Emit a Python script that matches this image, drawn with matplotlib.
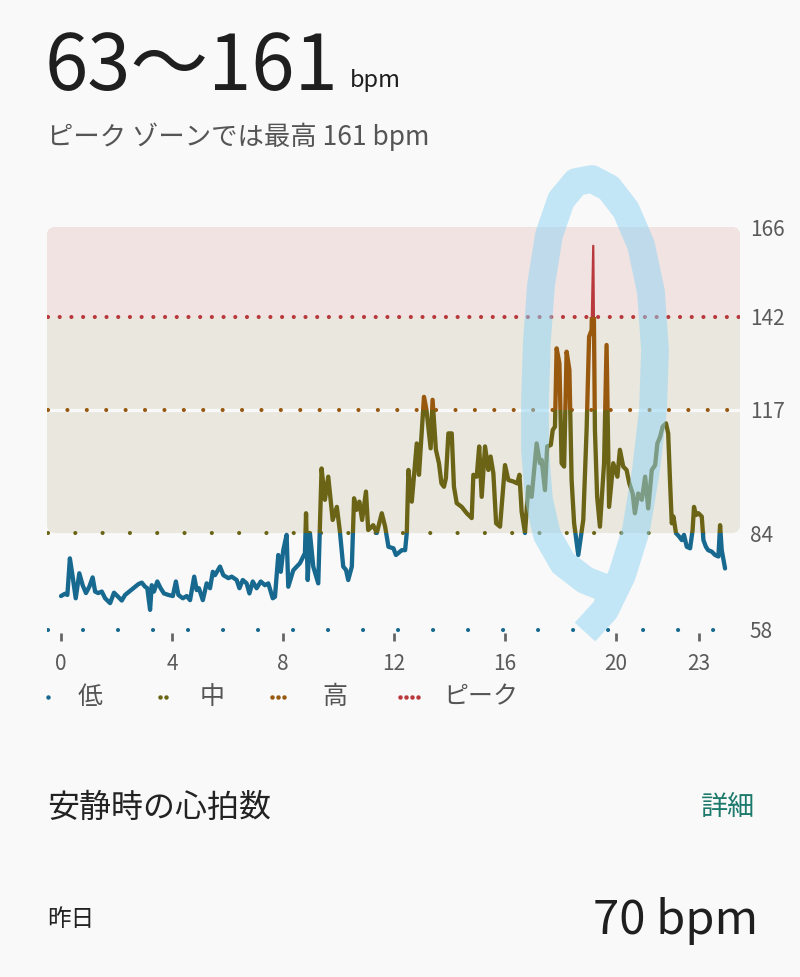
import matplotlib
matplotlib.use("Agg")
import matplotlib.pyplot as plt
from matplotlib.patches import FancyBboxPatch, Rectangle

plt.rcParams['font.family'] = ['Noto Sans CJK JP', 'DejaVu Sans']

# heart rate trace (hour of day, bpm)
hours = [0.00, 0.14, 0.23, 0.32, 0.42, 0.53, 0.66, 0.78, 0.90, 1.02, 1.14, 1.23, 1.34, 1.47,
         1.59, 1.77, 1.91, 2.06, 2.19, 2.31, 2.49, 2.67, 2.79, 2.91, 3.03, 3.11, 3.21, 3.27,
         3.35, 3.47, 3.59, 3.71, 3.87, 4.03, 4.14, 4.23, 4.39, 4.53, 4.65, 4.80, 4.89, 4.97,
         5.11, 5.25, 5.37, 5.47, 5.55, 5.73, 5.85, 6.03, 6.15, 6.33, 6.43, 6.55, 6.69, 6.79,
         6.91, 7.05, 7.20, 7.35, 7.47, 7.63, 7.71, 7.83, 7.92, 8.01, 8.13, 8.19, 8.37, 8.61,
         8.79, 8.83, 8.89, 8.97, 9.09, 9.27, 9.39, 9.51, 9.63, 9.79, 9.94, 10.05, 10.17, 10.27,
         10.35, 10.48, 10.56, 10.65, 10.75, 10.85, 10.99, 11.07, 11.25, 11.38, 11.56, 11.68,
         11.80, 11.98, 12.07, 12.28, 12.40, 12.46, 12.52, 12.64, 12.82, 12.90, 13.08, 13.17,
         13.32, 13.39, 13.51, 13.62, 13.71, 13.80, 13.87, 13.96, 14.08, 14.16, 14.26, 14.44,
         14.62, 14.80, 14.86, 14.98, 15.07, 15.16, 15.28, 15.40, 15.48, 15.58, 15.68, 15.82,
         16.00, 16.12, 16.30, 16.44, 16.52, 16.60, 16.72, 16.84, 16.96, 17.14, 17.26, 17.32,
         17.44, 17.52, 17.65, 17.72, 17.80, 17.86, 17.96, 18.04, 18.13, 18.22, 18.32, 18.40,
         18.49, 18.64, 18.82, 18.94, 19.03, 19.12, 19.18, 19.24, 19.32, 19.42, 19.57, 19.66,
         19.75, 19.90, 20.05, 20.14, 20.26, 20.38, 20.48, 20.60, 20.68, 20.80, 20.93, 21.05,
         21.16, 21.29, 21.41, 21.49, 21.59, 21.68, 21.80, 21.88, 21.95, 22.01, 22.07, 22.16,
         22.28, 22.37, 22.45, 22.55, 22.67, 22.76, 22.81, 22.88, 22.97, 23.09, 23.15, 23.24,
         23.32, 23.45, 23.57, 23.69, 23.75, 23.81, 23.93]
bpm = [67.1, 67.7, 67.4, 77.2, 72.3, 66.5, 73.2, 70.0, 67.9, 69.6, 72.1, 68.3, 67.9, 68.3,
       66.5, 65.2, 68.0, 66.9, 65.9, 67.4, 68.5, 69.6, 70.3, 70.7, 69.6, 69.2, 63.4, 70.0,
       68.3, 71.0, 69.2, 67.8, 67.4, 67.1, 71.0, 67.4, 66.5, 67.1, 66.0, 72.3, 68.7, 69.2,
       66.0, 70.5, 69.2, 73.6, 72.7, 75.0, 72.7, 71.9, 72.3, 71.4, 69.2, 71.4, 70.5, 67.8,
       71.0, 69.2, 71.0, 70.0, 70.5, 66.5, 66.9, 78.1, 73.6, 79.4, 83.5, 69.6, 74.0, 75.9,
       78.6, 89.3, 71.4, 84.0, 75.0, 70.5, 101.3, 92.9, 99.1, 87.5, 91.0, 84.4, 75.0, 74.1,
       71.4, 75.0, 93.3, 90.2, 92.4, 87.5, 95.1, 84.8, 86.1, 84.0, 89.3, 85.7,
       80.3, 79.9, 78.1, 79.4, 79.4, 84.0, 100.9, 92.4, 108.0, 99.6, 120.5, 117.0,
       106.7, 119.7, 106.3, 102.7, 97.3, 96.4, 98.7, 110.7, 110.7, 96.4, 92.0, 91.0,
       89.3, 88.0, 99.6, 99.1, 107.2, 93.7, 107.2, 100.9, 104.5, 100.0, 86.6, 85.7,
       102.2, 98.2, 97.8, 97.3, 99.6, 89.7, 84.0, 96.4, 93.7, 108.0, 102.7, 103.6,
       95.5, 107.2, 107.6, 111.6, 112.5, 133.5, 129.5, 102.7, 101.8, 132.6, 127.7, 98.2,
       86.6, 78.1, 87.5, 111.6, 136.6, 138.4, 161.0, 111.6, 93.7, 85.7, 102.7, 134.4,
       91.0, 102.7, 99.1, 106.3, 101.8, 100.9, 97.3, 94.6, 89.3, 94.6, 92.9, 99.1,
       90.6, 100.9, 102.2, 108.0, 109.8, 112.5, 113.4, 110.7, 97.3, 86.6, 88.4, 84.0,
       83.0, 82.1, 83.5, 80.3, 79.9, 84.8, 91.0, 88.8, 89.3, 88.4, 82.1, 80.3,
       79.4, 79.0, 78.1, 77.7, 86.1, 79.4, 74.5]

zone_edges = [58, 84, 117, 142, 166]
zone_names = ['低', '中', '高', 'ピーク']
zone_colors = ['#17698f', '#6b6416', '#98580e', '#b8383c']
dot_gaps_px = [35, 27.3, 19.4, 11.7]
x_ticks = [0, 4, 8, 12, 16, 20, 23]

resting_label = '安静時の心拍数'
resting_value = 70

W, H = 800, 977
bg = '#f9f9f9'
fig = plt.figure(figsize=(W / 100, H / 100), dpi=100, facecolor=bg)


def fy(py):
    return 1 - py / H


# chart axes, placed to line up with the screenshot
ax = fig.add_axes([47 / W, fy(641), 693 / W, 418 / H])
ax.set_facecolor('none')
x0, x1 = -0.5045, 24.468
ax.set_xlim(x0, x1)
ax.set_ylim(55.05, 167.1)
for s in ax.spines.values():
    s.set_visible(False)

# zone background (rounded), pink peak area on top
band = FancyBboxPatch((x0, zone_edges[1]), x1 - x0, zone_edges[4] - zone_edges[1],
                      boxstyle='round,pad=0,rounding_size=0.3', mutation_aspect=7.44,
                      fc='#e9e7de', ec='none', zorder=0)
ax.add_patch(band)
pink = Rectangle((x0, zone_edges[3]), x1 - x0, zone_edges[4] - zone_edges[3],
                 fc='#f0e3e2', ec='none', zorder=0.5)
ax.add_patch(pink)
pink.set_clip_path(band)
sep = ax.axhline(zone_edges[2], color=bg, lw=2.4, zorder=0.8)
sep.set_clip_path(band)

# dotted zone lines
ends = [0.964, 0.986, 0.986, 1.0]
dot_lw = 3.0
for v, c, g, e in zip(zone_edges[:4], zone_colors, dot_gaps_px, ends):
    gap = g / (dot_lw * 100 / 72)
    ax.axhline(v, xmin=0.0015, xmax=e, color=c, lw=dot_lw,
               linestyle=(0, (0.001, gap)), dash_capstyle='round', zorder=1)

# heart rate line, coloured by zone
lows = [0, 84, 117, 142]
highs = [84, 117, 142, 250]
for lo, hi, c in zip(lows, highs, zone_colors):
    lw = 1.6 if lo == 142 else 3.1
    ln, = ax.plot(hours, bpm, color=c, lw=lw, solid_joinstyle='round',
                  solid_capstyle='round', zorder=3)
    clip = Rectangle((x0 - 1, lo), x1 - x0 + 2, hi - lo, transform=ax.transData)
    ln.set_clip_path(clip)

ax.set_xticks(x_ticks)
ax.set_xticklabels([str(t) for t in x_ticks])
ax.tick_params(axis='x', direction='in', length=5.5, width=2.0, color='#666666',
               pad=9, labelsize=15, labelcolor='#5a5a5a')
ax.yaxis.tick_right()
ax.set_yticks(zone_edges)
ax.tick_params(axis='y', length=0, pad=7, labelsize=15, labelcolor='#5a5a5a')

# overlay in pixel space for legend dots and the hand-drawn highlight
ov = fig.add_axes([0, 0, 1, 1])
ov.set_xlim(0, W)
ov.set_ylim(H, 0)
ov.axis('off')
ov.set_facecolor('none')

legend_x = [48, 160, 272, 400]
label_x = [78, 200, 322, 443]
for i, (name, c) in enumerate(zip(zone_names, zone_colors)):
    xs = [legend_x[i] + 6 * k for k in range(i + 1)]
    ov.plot(xs, [697] * len(xs), 'o', color=c, ms=3.2, mew=0)
    ov.text(label_x[i], 697, name, fontsize=18, color='#555555', va='center')

hl_x = [605, 585, 563, 547, 539, 535, 535, 537, 541, 549, 561, 576, 592, 609, 626, 641,
        651, 655, 653, 646, 636, 622, 605, 585]
hl_y = [588, 580, 563, 535, 500, 450, 400, 340, 285, 235, 200, 182, 179, 188, 210, 245,
        292, 350, 410, 470, 530, 575, 610, 632]
ov.plot(hl_x, hl_y, color='#8fd4f4', alpha=0.5, lw=20, solid_joinstyle='round',
        solid_capstyle='butt', zorder=10)

lo_v, hi_v = int(round(min(bpm))), int(round(max(bpm)))
fig.text(45 / W, fy(90), f'{lo_v}〜{hi_v}', fontsize=56, color='#1f1f1f', va='baseline')
fig.text(350 / W, fy(87), 'bpm', fontsize=17, color='#1f1f1f', va='baseline')
fig.text(47 / W, fy(145), f'ピーク ゾーンでは最高 {hi_v} bpm', fontsize=19,
         color='#555555', va='baseline')
fig.text(47 / W, fy(817), resting_label, fontsize=23, color='#222222', va='baseline')
fig.text(755 / W, fy(815), '詳細', fontsize=19.5, color='#1b7a6b', ha='right', va='baseline')
fig.text(47 / W, fy(926), '昨日', fontsize=17, color='#222222', va='baseline')
fig.text(758 / W, fy(934), f'{resting_value} bpm', fontsize=34, color='#1f1f1f',
         ha='right', va='baseline')

fig.savefig('out.png', dpi=100, facecolor=bg)
